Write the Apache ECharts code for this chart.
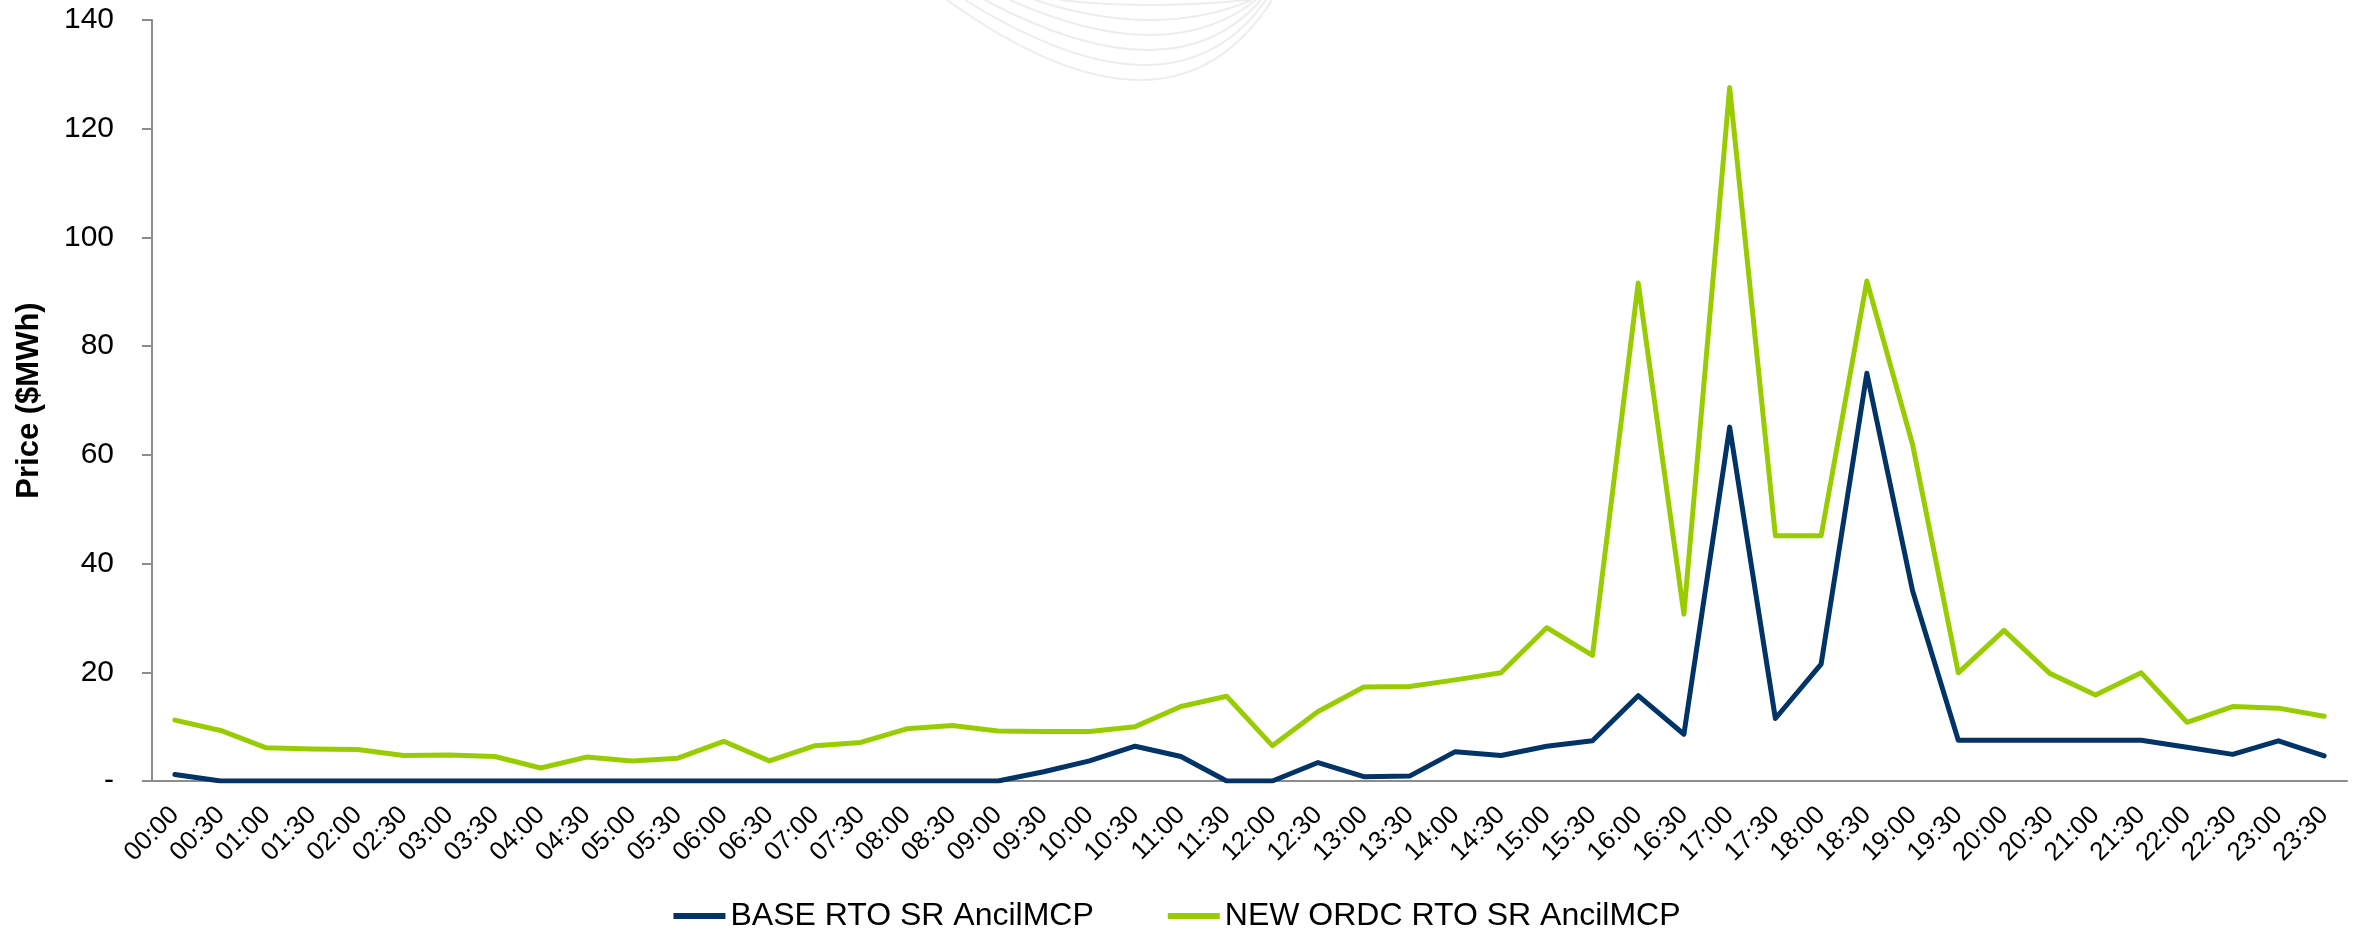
<!DOCTYPE html>
<html>
<head>
<meta charset="utf-8">
<style>
  html, body { margin: 0; padding: 0; background: #ffffff; }
  #chart { width: 2354px; height: 930px; }
</style>
<script src="https://cdn.jsdelivr.net/npm/echarts@6/dist/echarts.min.js"></script>
</head>
<body>
<div id="chart"></div>
<script>
// Half-hourly interval labels
const times = [
  '00:00','00:30','01:00','01:30','02:00','02:30','03:00','03:30',
  '04:00','04:30','05:00','05:30','06:00','06:30','07:00','07:30',
  '08:00','08:30','09:00','09:30','10:00','10:30','11:00','11:30',
  '12:00','12:30','13:00','13:30','14:00','14:30','15:00','15:30',
  '16:00','16:30','17:00','17:30','18:00','18:30','19:00','19:30',
  '20:00','20:30','21:00','21:30','22:00','22:30','23:00','23:30'
];

// Spinning reserve clearing prices ($/MWh)
const baseSeriesName = 'BASE RTO SR AncilMCP';
const baseValues = [
  1.2, 0, 0, 0, 0, 0, 0, 0,
  0, 0, 0, 0, 0, 0, 0, 0,
  0, 0, 0, 1.7, 3.7, 6.4, 4.5, 0,
  0, 3.4, 0.8, 0.9, 5.4, 4.7, 6.4, 7.4,
  15.7, 8.6, 65.1, 11.5, 21.5, 75.0, 35.0, 7.5,
  7.5, 7.5, 7.5, 7.5, 6.2, 4.9, 7.4, 4.6
];

const ordcSeriesName = 'NEW ORDC RTO SR AncilMCP';
const ordcValues = [
  11.2, 9.3, 6.1, 5.9, 5.8, 4.7, 4.8, 4.5,
  2.4, 4.4, 3.7, 4.2, 7.3, 3.7, 6.5, 7.1,
  9.6, 10.2, 9.2, 9.1, 9.1, 10.0, 13.7, 15.6,
  6.5, 12.8, 17.3, 17.4, 18.6, 19.9, 28.2, 23.1,
  91.6, 30.7, 127.6, 45.1, 45.1, 92.0, 61.9, 19.9,
  27.7, 19.8, 15.8, 19.9, 10.8, 13.7, 13.4, 11.9
];

// Value axis settings
const yMin = 0;
const yMax = 140;
const yStep = 20;

const FONT = '"Liberation Sans", Arial, sans-serif';
const AXIS_GREY = '#8c8c8c';

// Faint concentric swoosh of the report's logo mark, top centre
const swooshCurves = [
  { x1: 947,  x2: 1272, cx: 1170, cy: 160 },
  { x1: 965,  x2: 1266, cx: 1174, cy: 130 },
  { x1: 985,  x2: 1261, cx: 1173, cy: 100 },
  { x1: 1010, x2: 1256, cx: 1167, cy: 70 },
  { x1: 1035, x2: 1252, cx: 1157, cy: 40 },
  { x1: 1060, x2: 1248, cx: 1146, cy: 10 }
];

const chart = echarts.init(document.getElementById('chart'), null, { renderer: 'canvas' });

chart.setOption({
  backgroundColor: '#ffffff',
  animation: false,
  textStyle: { fontFamily: FONT },
  graphic: swooshCurves.map(c => ({
    type: 'bezierCurve',
    silent: true,
    z: -10,
    shape: { x1: c.x1, y1: 0, x2: c.x2, y2: 0, cpx1: c.cx, cpy1: c.cy },
    style: { stroke: '#ededed', lineWidth: 2, fill: null }
  })),
  grid: {
    left: 152,
    right: 7,
    top: 20,
    bottom: 149,
    containLabel: false
  },
  legend: {
    left: 'center',
    top: 895,
    icon: 'rect',
    itemWidth: 52,
    itemHeight: 6,
    itemGap: 74,
    textStyle: { fontFamily: FONT, fontSize: 32, color: '#000000' },
    data: [baseSeriesName, ordcSeriesName]
  },
  xAxis: {
    type: 'category',
    data: times,
    boundaryGap: true,
    axisLine: { show: true, lineStyle: { color: AXIS_GREY, width: 2 } },
    axisTick: { show: false },
    axisLabel: {
      interval: 0,
      rotate: 45,
      margin: 30,
      fontFamily: FONT,
      fontSize: 26,
      color: '#000000'
    },
    splitLine: { show: false }
  },
  yAxis: {
    type: 'value',
    min: yMin,
    max: yMax,
    interval: yStep,
    name: 'Price ($MWh)',
    nameLocation: 'middle',
    nameGap: 107,
    nameRotate: 90,
    nameTextStyle: { fontFamily: FONT, fontSize: 31, fontWeight: 'bold', color: '#000000' },
    axisLine: { show: true, lineStyle: { color: AXIS_GREY, width: 2 } },
    axisTick: { show: true, length: 10, inside: false, lineStyle: { color: AXIS_GREY, width: 2 } },
    axisLabel: {
      margin: 38,
      fontFamily: FONT,
      fontSize: 30,
      color: '#000000',
      formatter: v => (v === 0 ? '-' : String(v))
    },
    splitLine: { show: false }
  },
  series: [
    {
      name: baseSeriesName,
      type: 'line',
      data: baseValues,
      showSymbol: false,
      symbol: 'none',
      lineStyle: { color: '#003366', width: 5, join: 'round', cap: 'round' },
      itemStyle: { color: '#003366' },
      z: 2
    },
    {
      name: ordcSeriesName,
      type: 'line',
      data: ordcValues,
      showSymbol: false,
      symbol: 'none',
      lineStyle: { color: '#99cc00', width: 5, join: 'round', cap: 'round' },
      itemStyle: { color: '#99cc00' },
      z: 3
    }
  ]
});
</script>
</body>
</html>
